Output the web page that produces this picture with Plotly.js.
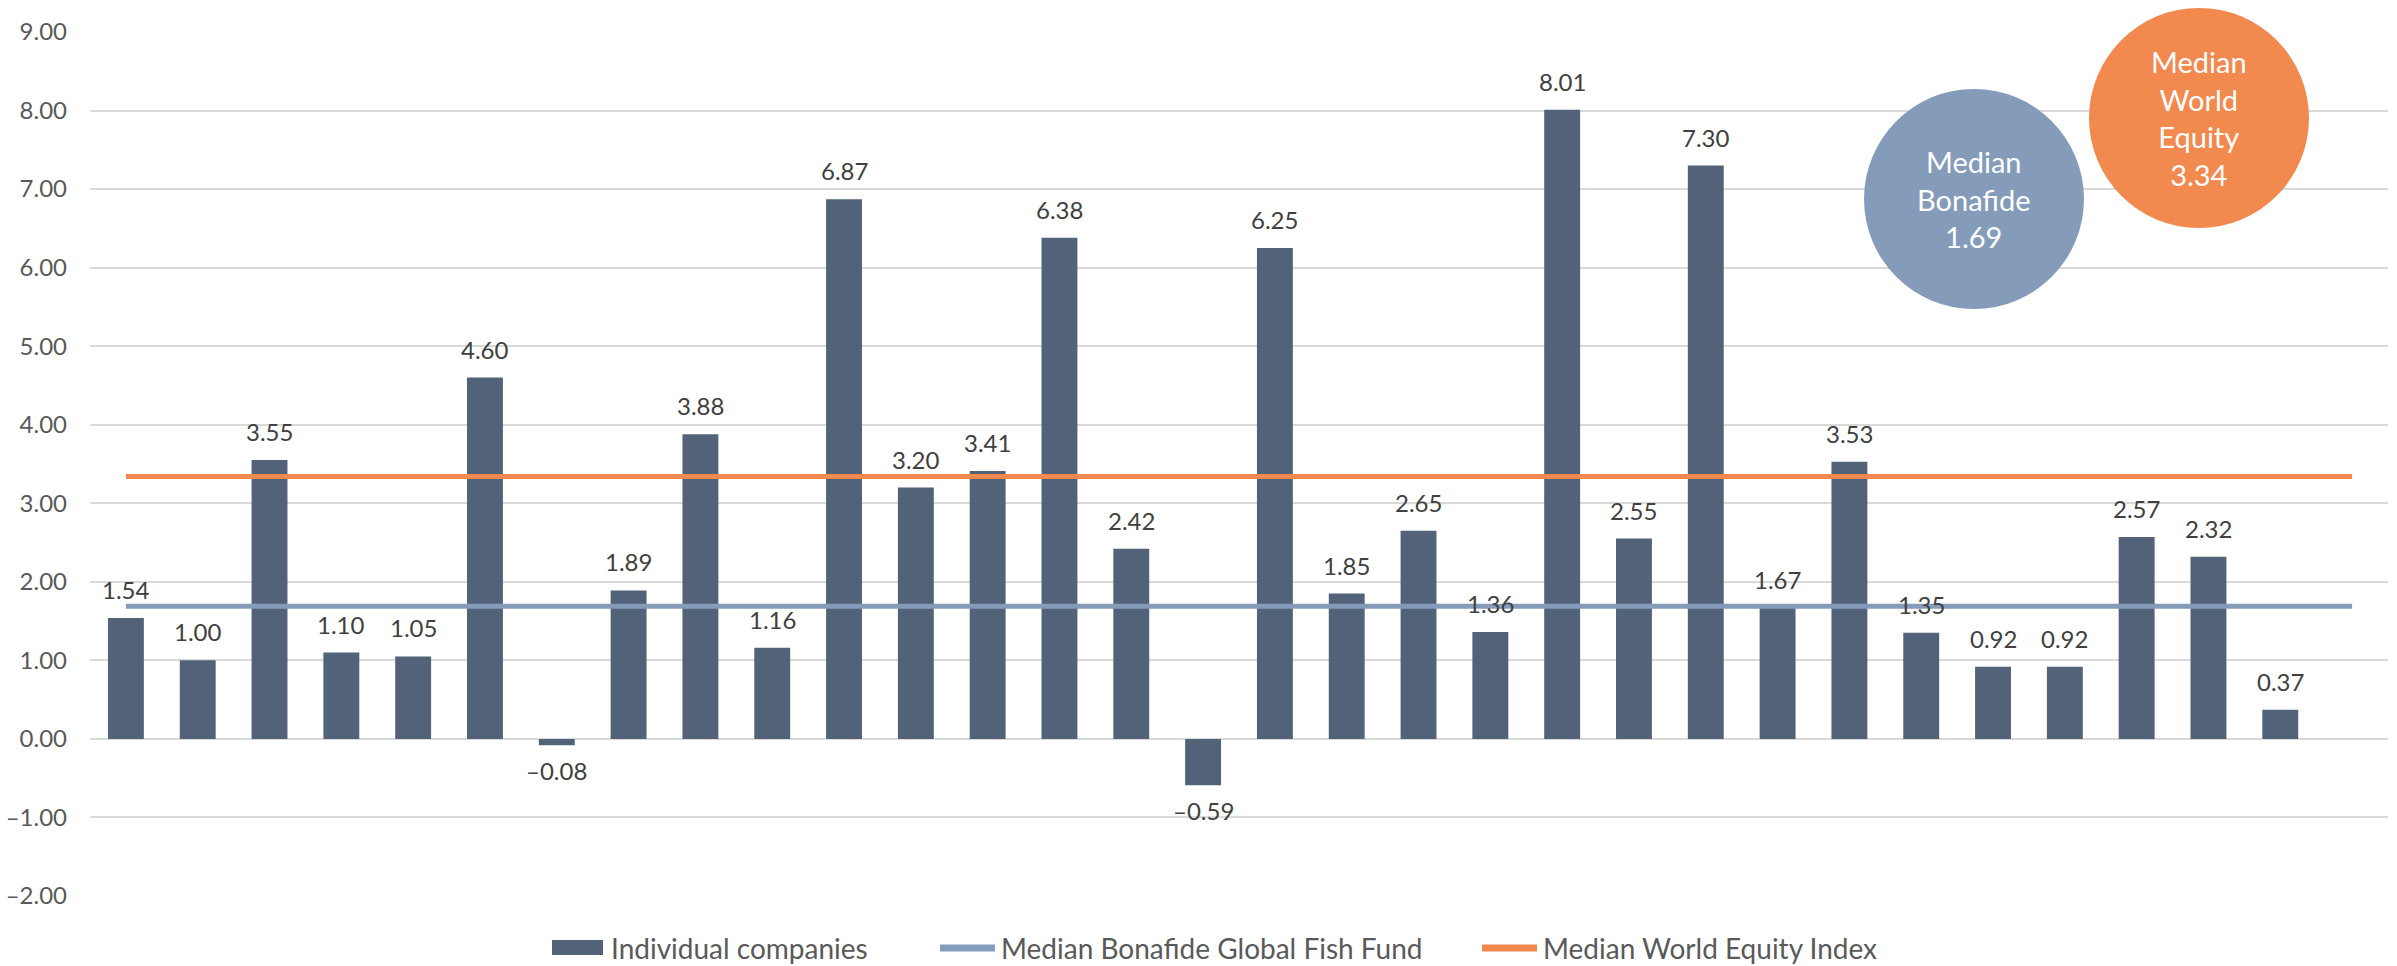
<!DOCTYPE html>
<html>
<head>
<meta charset="utf-8">
<script src="https://cdn.plot.ly/plotly-3.0.1.min.js"></script>
<style>html,body{margin:0;padding:0;background:#fff;}#chart{width:2397px;height:966px;}</style>
</head>
<body>
<div id="chart"></div>
<script>
const companyValues = [1.54, 1.00, 3.55, 1.10, 1.05, 4.60, -0.08, 1.89, 3.88, 1.16, 6.87, 3.20, 3.41, 6.38, 2.42, -0.59, 6.25, 1.85, 2.65, 1.36, 8.01, 2.55, 7.30, 1.67, 3.53, 1.35, 0.92, 0.92, 2.57, 2.32, 0.37];
const slotCount = 32;
const medianBonafide = 1.69;
const medianWorldEquity = 3.34;
const seriesNames = ["Individual companies", "Median Bonafide Global Fish Fund", "Median World Equity Index"];
const bubbleTexts = ["Median<br>Bonafide<br>1.69", "Median<br>World<br>Equity<br>3.34"];
const yTickVals = [-2, -1, 0, 1, 2, 3, 4, 5, 6, 7, 8, 9];

const barX = companyValues.map((v, i) => i);
const lineX = [0, slotCount - 1];
const fmt = v => (v < 0 ? "\u2013" : "") + Math.abs(v).toFixed(2);

const FONT = "Lato, 'Open Sans', sans-serif";
const BAR = "#526379", BLUE = "#849BBA", ORANGE = "#F2894F";

// plot area geometry (pixels)
const L = 90, Rm = 9, T = 32, B = 70, W = 2397, H = 966;
const PW = W - L - Rm, PH = H - T - B;
const px = x => (x - L) / PW;
const py = y => (H - B - y) / PH;

const traces = [
  {
    type: "bar", x: barX, y: companyValues, name: seriesNames[0],
    marker: {color: BAR}, width: 0.5, showlegend: false, hoverinfo: "y"
  },
  {
    type: "scatter", mode: "lines", x: lineX, y: [medianBonafide, medianBonafide],
    name: seriesNames[1], line: {color: BLUE, width: 5}, showlegend: false
  },
  {
    type: "scatter", mode: "lines", x: lineX, y: [medianWorldEquity, medianWorldEquity],
    name: seriesNames[2], line: {color: ORANGE, width: 5}, showlegend: false
  }
];

const labelAnnotations = companyValues.map((v, i) => ({
  xref: "x", yref: "y", x: i, y: v, text: fmt(v), showarrow: false,
  xanchor: "center", yanchor: v < 0 ? "top" : "bottom", yshift: v < 0 ? -9 : 12,
  font: {family: FONT, size: 24, color: "#404040"}
}));

const R = 110;
const bubbles = [
  {cx: 1974, cy: 199, color: BLUE, text: bubbleTexts[0]},
  {cx: 2199, cy: 118, color: ORANGE, text: bubbleTexts[1]}
];

// custom legend
const legY = 948;
const legendItems = [
  {kind: "rect", x0: 552, x1: 603, tx: 609, color: BAR, name: seriesNames[0]},
  {kind: "line", x0: 940, x1: 995, tx: 999, color: BLUE, name: seriesNames[1]},
  {kind: "line", x0: 1482, x1: 1537, tx: 1541, color: ORANGE, name: seriesNames[2]}
];

const shapes = [];
const annotations = labelAnnotations.slice();

bubbles.forEach(b => {
  shapes.push({type: "circle", xref: "paper", yref: "paper", xsizemode: "pixel", ysizemode: "pixel",
    xanchor: px(b.cx), yanchor: py(b.cy), x0: -R, x1: R, y0: -R, y1: R,
    fillcolor: b.color, line: {width: 0}, layer: "above"});
  annotations.push({xref: "paper", yref: "paper", x: px(b.cx), y: py(b.cy), text: b.text, showarrow: false,
    font: {family: FONT, size: 29, color: "#fff"}, align: "center", xanchor: "center", yanchor: "middle"});
});

legendItems.forEach(it => {
  if (it.kind === "rect") {
    shapes.push({type: "rect", xref: "paper", yref: "paper", x0: px(it.x0), x1: px(it.x1),
      y0: py(legY + 7), y1: py(legY - 8), fillcolor: it.color, line: {width: 0}});
  } else {
    shapes.push({type: "line", xref: "paper", yref: "paper", x0: px(it.x0), x1: px(it.x1),
      y0: py(legY), y1: py(legY), line: {color: it.color, width: 7}});
  }
  annotations.push({xref: "paper", yref: "paper", x: px(it.tx), y: py(legY), text: it.name, showarrow: false,
    xanchor: "left", yanchor: "middle", font: {family: FONT, size: 28, color: "#595959"}});
});

const layout = {
  width: W, height: H,
  margin: {l: L, r: Rm, t: T, b: B},
  paper_bgcolor: "#fff", plot_bgcolor: "#fff",
  showlegend: false,
  xaxis: {range: [-0.5, slotCount - 0.5], showticklabels: false, showgrid: false, zeroline: false, ticks: "", fixedrange: true},
  yaxis: {range: [-2, 9], tickvals: yTickVals, ticktext: yTickVals.map(fmt),
          showgrid: true, gridcolor: "#D9D9D9", gridwidth: 2, zeroline: true, zerolinecolor: "#D9D9D9", zerolinewidth: 2,
          tickfont: {family: FONT, size: 24, color: "#595959"}, ticks: "", ticklabelstandoff: 22},
  shapes: shapes,
  annotations: annotations
};

Plotly.newPlot("chart", traces, layout, {displayModeBar: false, staticPlot: true});
</script>
</body>
</html>
